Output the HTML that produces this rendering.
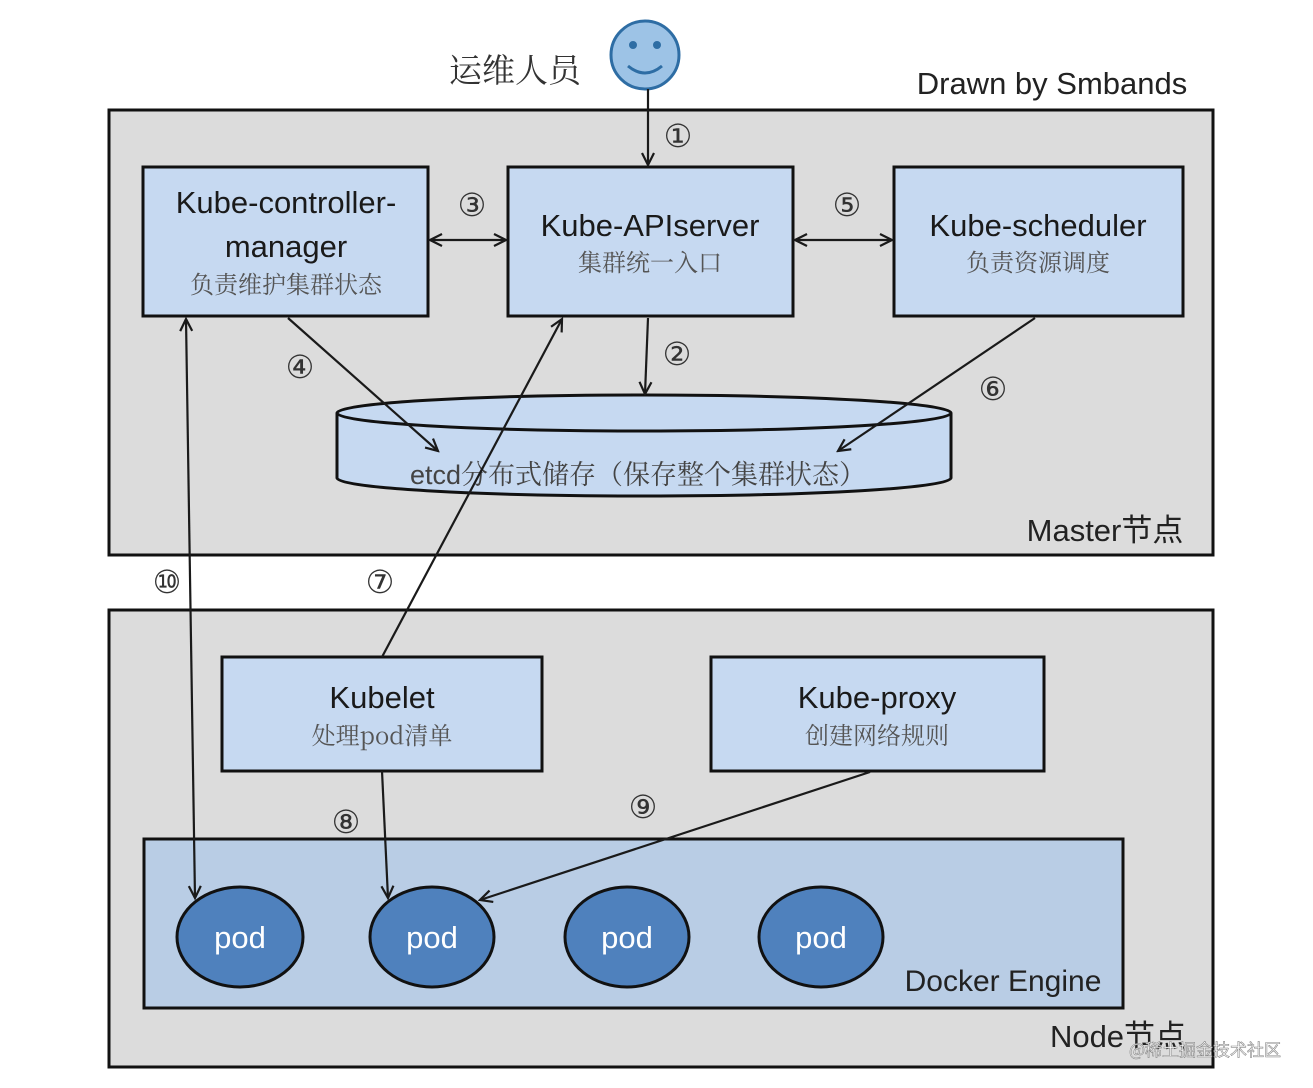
<!DOCTYPE html>
<html><head><meta charset="utf-8"><style>
html,body{margin:0;padding:0;background:#fff}
svg{display:block}
text{font-family:"Liberation Sans","Noto Sans CJK SC",sans-serif}
.t{font-size:31px;fill:#1a1a1a;text-anchor:middle}
.c{font-family:"Noto Serif CJK SC","Noto Sans CJK SC",serif;font-size:24px;fill:#555;text-anchor:middle}
.n{font-family:"DejaVu Sans","Noto Sans CJK SC",sans-serif;font-size:32px;fill:#333;text-anchor:middle}
.l{stroke:#1a1a1a;stroke-width:2.2;fill:none}
</style></head><body>
<svg width="1313" height="1088" viewBox="0 0 1313 1088" xmlns="http://www.w3.org/2000/svg">
<defs>
<marker id="a" markerWidth="16" markerHeight="16" refX="14" refY="8" orient="auto-start-reverse" markerUnits="userSpaceOnUse">
<polyline points="2,2 14,8 2,14" fill="none" stroke="#1a1a1a" stroke-width="2.2"/></marker>
</defs>
<rect width="1313" height="1088" fill="#fff"/>
<text x="515" y="82" style="font-family:'Noto Serif CJK SC',serif;font-size:33px;fill:#333" text-anchor="middle">运维人员</text>
<circle cx="645" cy="55" r="34" fill="#9dc3e6" stroke="#2e6da4" stroke-width="3"/>
<circle cx="633" cy="45" r="4" fill="#2e6da4"/><circle cx="657" cy="45" r="4" fill="#2e6da4"/>
<path d="M628 66 Q645 80 662 66" fill="none" stroke="#2e6da4" stroke-width="3"/>
<text x="1052" y="94" style="font-size:31px;fill:#222" text-anchor="middle">Drawn by Smbands</text>
<rect x="109" y="110" width="1104" height="445" fill="#dcdcdc" stroke="#111" stroke-width="3"/>
<text x="1105" y="541" style="font-size:31px;fill:#222" text-anchor="middle">Master<tspan style="font-family:'Noto Sans CJK SC'">节点</tspan></text>
<rect x="143" y="167" width="285" height="149" fill="#c6d9f1" stroke="#111" stroke-width="3"/>
<text class="t" x="286" y="213">Kube-controller-</text>
<text class="t" x="286" y="257">manager</text>
<text class="c" x="286" y="293">负责维护集群状态</text>
<rect x="508" y="167" width="285" height="149" fill="#c6d9f1" stroke="#111" stroke-width="3"/>
<text class="t" x="650" y="236">Kube-APIserver</text>
<text class="c" x="650" y="271">集群统一入口</text>
<rect x="894" y="167" width="289" height="149" fill="#c6d9f1" stroke="#111" stroke-width="3"/>
<text class="t" x="1038" y="236">Kube-scheduler</text>
<text class="c" x="1038" y="271">负责资源调度</text>
<path d="M337 413 L337 478 A307 18 0 0 0 951 478 L951 413" fill="#c6d9f1" stroke="#111" stroke-width="3"/>
<ellipse cx="644" cy="413" rx="307" ry="18" fill="#c6d9f1" stroke="#111" stroke-width="3"/>
<text x="638" y="484" style="font-family:'Liberation Sans','Noto Serif CJK SC',serif;font-size:27px;fill:#444" text-anchor="middle">etcd分布式储存（保存整个集群状态）</text>
<rect x="109" y="610" width="1104" height="457" fill="#dcdcdc" stroke="#111" stroke-width="3"/>
<rect x="222" y="657" width="320" height="114" fill="#c6d9f1" stroke="#111" stroke-width="3"/>
<text class="t" x="382" y="708">Kubelet</text>
<text class="c" x="382" y="744">处理pod清单</text>
<rect x="711" y="657" width="333" height="114" fill="#c6d9f1" stroke="#111" stroke-width="3"/>
<text class="t" x="877" y="708">Kube-proxy</text>
<text class="c" x="877" y="744">创建网络规则</text>
<rect x="144" y="839" width="979" height="169" fill="#b9cde5" stroke="#111" stroke-width="3"/>
<text x="1003" y="991" style="font-size:30px;fill:#222" text-anchor="middle">Docker Engine</text>
<text x="1118" y="1047" style="font-size:31px;fill:#222" text-anchor="middle">Node<tspan style="font-family:'Noto Sans CJK SC'">节点</tspan></text>
<g fill="#4f81bd" stroke="#111" stroke-width="3">
<ellipse cx="240" cy="937" rx="63" ry="50"/><ellipse cx="432" cy="937" rx="62" ry="50"/>
<ellipse cx="627" cy="937" rx="62" ry="50"/><ellipse cx="821" cy="937" rx="62" ry="50"/></g>
<g style="font-size:31px;fill:#fff" text-anchor="middle">
<text x="240" y="948">pod</text><text x="432" y="948">pod</text><text x="627" y="948">pod</text><text x="821" y="948">pod</text></g>
<line class="l" x1="648" y1="89" x2="648" y2="165" marker-end="url(#a)"/>
<line class="l" x1="430" y1="240" x2="506" y2="240" marker-start="url(#a)" marker-end="url(#a)"/>
<line class="l" x1="795" y1="240" x2="892" y2="240" marker-start="url(#a)" marker-end="url(#a)"/>
<line class="l" x1="648" y1="318" x2="645" y2="394" marker-end="url(#a)"/>
<line class="l" x1="288" y1="318" x2="438" y2="451" marker-end="url(#a)"/>
<line class="l" x1="1035" y1="318" x2="838" y2="451" marker-end="url(#a)"/>
<line class="l" x1="382" y1="657" x2="562" y2="319" marker-end="url(#a)"/>
<line class="l" x1="186" y1="319" x2="195" y2="898" marker-start="url(#a)" marker-end="url(#a)"/>
<line class="l" x1="382" y1="771" x2="388" y2="898" marker-end="url(#a)"/>
<line class="l" x1="870" y1="772" x2="480" y2="900" marker-end="url(#a)"/>
<text class="n" x="678" y="147">①</text>
<text class="n" x="472" y="216">③</text>
<text class="n" x="847" y="216">⑤</text>
<text class="n" x="677" y="365">②</text>
<text class="n" x="300" y="378">④</text>
<text class="n" x="993" y="400">⑥</text>
<text class="n" x="380" y="593">⑦</text>
<text class="n" x="167" y="593">⑩</text>
<text class="n" x="346" y="833">⑧</text>
<text class="n" x="643" y="818">⑨</text>
<text x="1205" y="1056" style="font-family:'Noto Sans CJK SC',sans-serif;font-size:17px;fill:#fff;stroke:#888;stroke-width:0.6" text-anchor="middle">@稀土掘金技术社区</text>
</svg>
</body></html>
